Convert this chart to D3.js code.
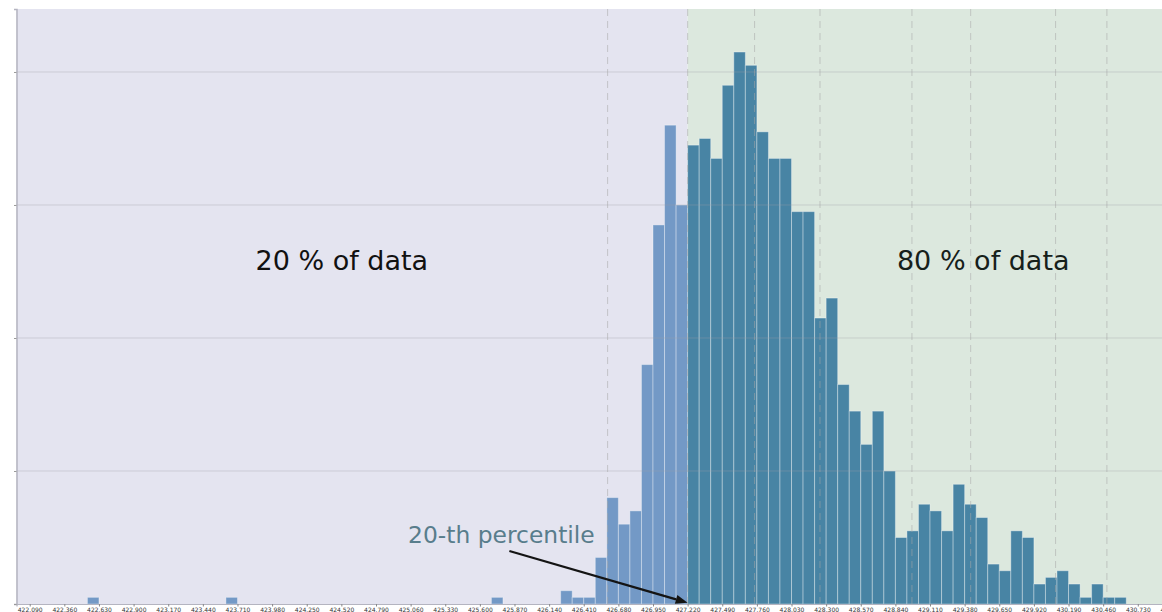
<!DOCTYPE html>
<html>
<head>
<meta charset="utf-8">
<script src="https://cdn.jsdelivr.net/npm/d3@7"></script>
<style>
  html, body { margin: 0; padding: 0; background: #ffffff; overflow: hidden; }
  svg { display: block; font-family: "DejaVu Sans", sans-serif; }
</style>
</head>
<body>
<svg id="chart" width="1162" height="612"></svg>
<script>
// Histogram bins: lower edge of first bin and common width
const binStart = 422.09;
const binWidth = 0.09;
// Counts per bin (bin i covers binStart + i*binWidth .. + binWidth)
const counts = [
  0, 0, 0, 0, 0, 1, 0, 0, 0, 0,
  0, 0, 0, 0, 0, 0, 0, 1, 0, 0,
  0, 0, 0, 0, 0, 0, 0, 0, 0, 0,
  0, 0, 0, 0, 0, 0, 0, 0, 0, 0,
  1, 0, 0, 0, 0, 0, 2, 1, 1, 7,
  16, 12, 14, 36, 57, 72, 60, 69, 70, 67,
  78, 83, 81, 71, 67, 67, 59, 59, 43, 46,
  33, 29, 24, 29, 20, 10, 11, 15, 14, 11,
  18, 15, 13, 6, 5, 11, 10, 3, 4, 5,
  3, 1, 3, 1, 1
];

// Percentile markers (dashed verticals)
const percentileNames = ["1", "20", "50", "75", "90", "95", "99", "99.9"];
const percentileValues = [426.596, 427.22, 427.742, 428.252, 428.969, 429.427, 430.089, 430.489];
const splitValue = 427.22;

// Axis ticks
const xTickValues = [
  422.09, 422.36, 422.63, 422.90, 423.17, 423.44, 423.71, 423.98, 424.25, 424.52,
  424.79, 425.06, 425.33, 425.60, 425.87, 426.14, 426.41, 426.68, 426.95, 427.22,
  427.49, 427.76, 428.03, 428.30, 428.57, 428.84, 429.11, 429.38, 429.65, 429.92,
  430.19, 430.46, 430.73, 431.00
];
const yTickValues = [0, 20, 40, 60, 80];

// Text annotations
const regionLabels = ["20 % of data", "80 % of data"];
const regionLabelX = [424.524, 429.525];
const regionLabelY = 50.2;
const annotationText = "20-th percentile";
const annotationTextPos = [425.768, 9.1];
const annotationTailPos = [425.83, 7.97];
const annotationTipPos = [427.22, 0.2];

const svg = d3.select("#chart");

const plotLeft = 16.5, plotTop = 9, plotBottom = 604;
const pxPerUnit = 128.25;
const xMin = 421.987, xMax = 431.6;

const x = d3.scaleLinear().domain([xMin, xMax]).range([plotLeft, plotLeft + (xMax - xMin) * pxPerUnit]);
const y = d3.scaleLinear().domain([0, 89.47]).range([plotBottom, plotTop]);
const xRight = x(xMax);

// Shaded regions
svg.append("rect")
  .attr("x", plotLeft).attr("y", plotTop)
  .attr("width", x(splitValue) - plotLeft).attr("height", plotBottom - plotTop)
  .attr("fill", "#e4e4f0");
svg.append("rect")
  .attr("x", x(splitValue)).attr("y", plotTop)
  .attr("width", xRight - x(splitValue)).attr("height", plotBottom - plotTop)
  .attr("fill", "#dce8de");

// Bars
const bins = counts.map((c, i) => ({ x0: binStart + i * binWidth, x1: binStart + (i + 1) * binWidth, n: c }))
  .filter(d => d.n > 0);

svg.append("g").selectAll("rect").data(bins).join("rect")
  .attr("x", d => x(d.x0))
  .attr("y", d => y(d.n))
  .attr("width", d => x(d.x1) - x(d.x0))
  .attr("height", d => y(0) - y(d.n))
  .attr("fill", d => d.x0 < splitValue - 1e-9 ? "#7399c6" : "#4884a4")
  .attr("stroke", "#ffffff")
  .attr("stroke-opacity", 0.35)
  .attr("stroke-width", 1);

// Horizontal grid, drawn over the bars with low opacity
svg.append("g").selectAll("line").data(yTickValues.filter(v => v > 0)).join("line")
  .attr("x1", plotLeft).attr("x2", xRight)
  .attr("y1", d => y(d)).attr("y2", d => y(d))
  .attr("stroke", "#a0a0a8")
  .attr("stroke-opacity", 0.35)
  .attr("stroke-width", 1);

// Percentile markers
svg.append("g").selectAll("line").data(percentileValues).join("line")
  .attr("x1", d => x(d)).attr("x2", d => x(d))
  .attr("y1", plotTop).attr("y2", plotBottom)
  .attr("stroke", "#a8a8a8")
  .attr("stroke-opacity", 0.55)
  .attr("stroke-width", 1)
  .attr("stroke-dasharray", "7,5");

// Axes
const xAxis = d3.axisBottom(x)
  .tickValues(xTickValues)
  .tickFormat(d3.format(".3f"))
  .tickSize(2.5)
  .tickPadding(1.5);
const gx = svg.append("g").attr("transform", `translate(0,${plotBottom})`).call(xAxis);
gx.select(".domain").attr("stroke", "#b4b4c0").attr("stroke-width", 1.2);
gx.selectAll(".tick line").attr("stroke", "#888888");
gx.selectAll(".tick text")
  .attr("font-family", "DejaVu Sans, sans-serif")
  .attr("font-size", 6)
  .attr("fill", "#333333");

const yAxis = d3.axisLeft(y).tickValues(yTickValues).tickFormat("").tickSize(2.5);
const gy = svg.append("g").attr("transform", `translate(${plotLeft},0)`).call(yAxis);
gy.select(".domain").attr("stroke", "#b4b4c0").attr("stroke-width", 1.5);
gy.selectAll(".tick line").attr("stroke", "#999999");

// Region labels
svg.append("g").selectAll("text").data(regionLabels).join("text")
  .attr("x", (d, i) => x(regionLabelX[i]))
  .attr("y", y(regionLabelY))
  .attr("text-anchor", "middle")
  .attr("font-size", 27)
  .attr("fill", (d, i) => i === 0 ? "#111111" : "#16201a")
  .text(d => d);

// Percentile annotation with arrow
svg.append("text")
  .attr("x", x(annotationTextPos[0]))
  .attr("y", y(annotationTextPos[1]))
  .attr("text-anchor", "middle")
  .attr("font-size", 23.4)
  .attr("fill", "#587d8c")
  .text(annotationText);

const tail = [x(annotationTailPos[0]), y(annotationTailPos[1])];
const tip = [x(annotationTipPos[0]), y(annotationTipPos[1])];
const ang = Math.atan2(tip[1] - tail[1], tip[0] - tail[0]);
const headLen = 12, headHalf = 4.5;
const base = [tip[0] - headLen * Math.cos(ang), tip[1] - headLen * Math.sin(ang)];
svg.append("line")
  .attr("x1", tail[0]).attr("y1", tail[1])
  .attr("x2", base[0]).attr("y2", base[1])
  .attr("stroke", "#141414").attr("stroke-width", 2.3);
svg.append("path")
  .attr("d", d3.line()([
    tip,
    [base[0] + headHalf * Math.sin(ang), base[1] - headHalf * Math.cos(ang)],
    [base[0] - headHalf * Math.sin(ang), base[1] + headHalf * Math.cos(ang)]
  ]) + "Z")
  .attr("fill", "#141414");
</script>
</body>
</html>
